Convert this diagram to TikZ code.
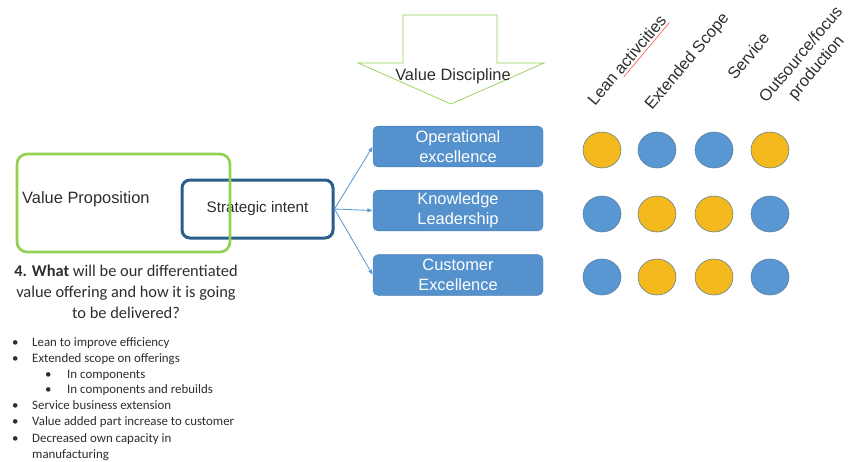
\documentclass[tikz,border=0pt]{standalone}
\usepackage{fontspec}
\setmainfont{Liberation Sans}
\newfontfamily\calibfont{Carlito}
\usetikzlibrary{arrows.meta, positioning, shapes.geometric, calc}
\usepackage{xcolor}

\definecolor{propgreen}{RGB}{146,208,80}
\definecolor{intentblue}{RGB}{42,92,140}
\definecolor{boxblue}{RGB}{84,145,205}
\definecolor{boxedge}{RGB}{70,125,180}
\definecolor{dotblue}{RGB}{88,151,210}
\definecolor{dotyellow}{RGB}{244,185,28}
\definecolor{dotedge}{RGB}{95,125,155}
\definecolor{txtgray}{RGB}{45,45,45}

\newcommand{\itemone}[1]{\hspace*{0.6mm}\makebox[6mm][l]{\textbullet}#1}
\newcommand{\itemtwo}[1]{\hspace*{10.5mm}\makebox[6.6mm][l]{\textbullet}#1}

\begin{document}
\begin{tikzpicture}[x=0.3mm, y=-0.3mm,
  lbl/.style={font=\fontsize{14}{17}\selectfont, text=txtgray, inner sep=0pt},
  discbox/.style={draw=boxedge, fill=boxblue, rounded corners=1.5mm, minimum width=51mm,
    minimum height=12.2mm, align=center, text=white, font=\fontsize{14}{17}\selectfont, inner sep=0pt},
  link/.style={-{Latex[length=1.6mm, width=1.3mm]}, draw=dotblue, line width=0.7pt},
  dot/.style={ellipse, draw=dotedge, line width=0.5pt, minimum width=11.4mm, minimum height=10.8mm, inner sep=0pt},
  colhdr/.style={lbl, rotate=50, anchor=base west}
]
\useasboundingbox (0,0) rectangle (857,461);
\clip (0,0) rectangle (857,461);

% proposition and intent
\node[draw=intentblue, line width=0.9mm, rounded corners=2.4mm, minimum width=45.3mm, minimum height=17.4mm,
  font=\fontsize{13}{16}\selectfont, text=txtgray] (si) at (257.5,209) {Strategic intent};
\draw[propgreen, line width=0.8mm, rounded corners=3mm] (17,154) rectangle (230,252);
\node[lbl, anchor=west] (vp) at (22,199) {Value Proposition};

% value disciplines
\draw[propgreen, line width=0.6pt] (403,15) -- (497,15) -- (497,63) -- (544,63) -- (451,104)
  -- (358,63) -- (403,63) -- cycle;
\node[lbl] (vd) at (453,76) {Value Discipline};

\node[discbox] (opex) at (458,146.5) {Operational\\excellence};
\node[discbox] (know) at (458,210.5) {Knowledge\\Leadership};
\node[discbox] (cust) at (458,275) {Customer\\Excellence};

\draw[link] (si.east) -- (opex.west);
\draw[link] (si.east) -- (know.west);
\draw[link] (si.east) -- (cust.west);

% column heads
\node[colhdr] (h1) at (595,107) {Lean activcities};
\coordinate (ul) at ($(h1.south west)!0.37!(h1.south east)$);
\draw[red!70, line width=0.5pt] ($(ul)!2pt!-90:(h1.south east)$) -- ($(h1.south east)!2pt!90:(ul)$);
\node[colhdr] (h2) at (652,111) {Extended Scope};
\node[colhdr] (h3) at (735,81) {Service};
\node[colhdr, align=center, anchor=north west] (h4) at (757,96) {Outsource/focus\\production};

% dots
\foreach \x/\clr [count=\i] in {602/dotyellow, 657/dotblue, 714/dotblue, 770/dotyellow}
  \node[dot, fill=\clr] (a\i) at (\x,150) {};
\foreach \x/\clr [count=\i] in {602/dotblue, 657/dotyellow, 714/dotyellow, 770/dotblue}
  \node[dot, fill=\clr] (b\i) at (\x,214) {};
\foreach \x/\clr [count=\i] in {602/dotblue, 657/dotyellow, 714/dotyellow, 770/dotblue}
  \node[dot, fill=\clr] (c\i) at (\x,277) {};

% question and answers
\node[font={\calibfont\fontsize{14}{18}\selectfont}, align=center, text=txtgray, inner sep=0pt] (q4) at (126,292)
  {\textbf{4. What} will be our differentiated\\value offering and how it is going\\to be delivered?};
\node[font={\calibfont\fontsize{11}{13.6}\selectfont}, align=left, text=txtgray, inner sep=0pt, anchor=north west] (offer) at (10,337)
  {\itemone{Lean to improve efficiency}\\
   \itemone{Extended scope on offerings}\\
   \itemtwo{In components}\\
   \itemtwo{In components and rebuilds}\\
   \itemone{Service business extension}\\
   \itemone{Value added part increase to customer}\\[1pt]
   \itemone{Decreased own capacity in}\\
   \hspace*{6.6mm}manufacturing};
\end{tikzpicture}
\end{document}
